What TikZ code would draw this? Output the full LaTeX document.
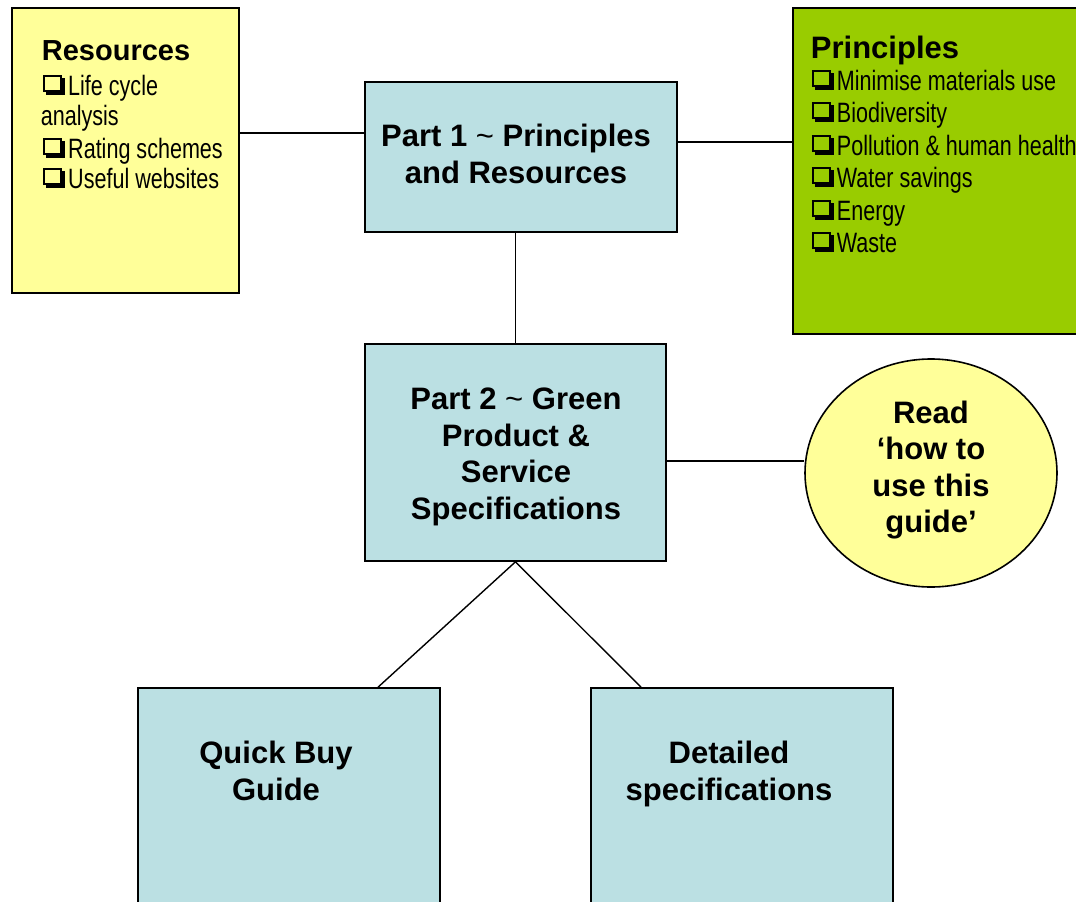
\documentclass[tikz,border=0pt]{standalone}
\usepackage{fontspec}
\setmainfont{Liberation Sans}
\newfontfamily\narrowfont[FakeStretch=0.77]{Liberation Sans}
\usetikzlibrary{shapes.geometric}
\definecolor{resyellow}{HTML}{FFFF99}
\definecolor{prgreen}{HTML}{99CC00}
\definecolor{partblue}{HTML}{BBE0E3}
\newcommand{\cbxbox}{\setlength{\unitlength}{1pt}\begin{picture}(22,20)
 \put(0,3){\rule{19pt}{2pt}}
 \put(0,18){\rule{19pt}{2pt}}
 \put(0,3){\rule{2pt}{17pt}}
 \put(17,3){\rule{2pt}{17pt}}
 \put(3,0){\rule{19pt}{3pt}}
 \put(19,0){\rule{3pt}{17pt}}
\end{picture}}
\newcommand{\cbx}{\makebox[25pt][l]{\raisebox{0pt}{\cbxbox}}}
\newcommand{\midtilde}{{\mdseries\textasciitilde}}
\begin{document}
\begin{tikzpicture}[x=1pt,y=-1pt,
  box/.style={draw=black, line width=1.6pt, rectangle, inner sep=0pt},
  conn/.style={draw=black, line width=1.4pt},
  bigtext/.style={font=\fontsize{31}{36.5}\selectfont\bfseries, align=center, inner sep=0pt},
  itemtext/.style={font=\narrowfont\fontsize{28}{32}\selectfont, anchor=base west, inner sep=0pt},
  titletext/.style={font=\fontsize{29}{32}\selectfont\bfseries, anchor=base west, inner sep=0pt}]
\useasboundingbox (0,0) rectangle (1076,902);
\clip (0,0) rectangle (1076,902);
\fill[white] (0,0) rectangle (1076,902);

% boxes
\node[box, fill=resyellow, minimum width=227pt, minimum height=285pt] (res) at (125.5,150.5) {};
\node[box, fill=prgreen, minimum width=297pt, minimum height=326pt] (pri) at (941.5,171) {};
\node[box, fill=partblue, minimum width=312pt, minimum height=150pt] (p1) at (521,157) {};
\node[box, fill=partblue, minimum width=301pt, minimum height=217pt] (p2) at (515.5,452.5) {};
\node[ellipse, draw=black, line width=1.6pt, fill=resyellow, minimum width=252pt, minimum height=228pt, inner sep=0pt] (ell) at (931,473) {};
\node[box, fill=partblue, minimum width=302pt, minimum height=242pt] (qb) at (289,809) {};
\node[box, fill=partblue, minimum width=302pt, minimum height=242pt] (dt) at (742,809) {};

% helper coordinates
\coordinate (ya) at (0,133);
\coordinate (yb) at (0,142);
\coordinate (yc) at (0,461);
\coordinate (xq) at (378,0);
\coordinate (xd) at (641,0);

% connectors
\draw[conn] (res.east |- ya) -- (p1.west |- ya);
\draw[conn] (p1.east |- yb) -- (pri.west |- yb);
\draw[conn] (p1.south -| p2.north) -- (p2.north);
\draw[conn] (p2.east |- yc) -- (ell.west |- yc);
\draw[conn] (p2.south) -- (qb.north -| xq);
\draw[conn] (p2.south) -- (dt.north -| xd);

% texts
\node[bigtext] (t1) at (516,154) {Part 1 \midtilde{} Principles\\and Resources};
\node[bigtext] (t2) at (516,457) {Part 2 \midtilde{} Green\\Product \&\\Service\\Specifications};
\node[bigtext] (t3) at (931,470) {Read\\‘how to\\use this\\guide’};
\node[bigtext] (t4) at (276,771) {Quick Buy\\Guide};
\node[bigtext] (t5) at (729,774) {Detailed\\specifications};

% Resources list
\node[titletext] (r0) at (41.7,60) {Resources};
\node[itemtext] (r1) at (43,95) {\cbx Life cycle};
\node[itemtext] (r2) at (40.7,125) {analysis};
\node[itemtext] (r3) at (43,158) {\cbx Rating schemes};
\node[itemtext] (r4) at (43,188) {\cbx Useful websites};

% Principles list
\node[titletext, font=\fontsize{31}{32}\selectfont\bfseries] (q0) at (810.7,58) {Principles};
\node[itemtext] (q1) at (811.7,90) {\cbx Minimise materials use};
\node[itemtext] (q2) at (811.7,122) {\cbx Biodiversity};
\node[itemtext] (q3) at (811.7,155) {\cbx Pollution \& human health};
\node[itemtext] (q4) at (811.7,187) {\cbx Water savings};
\node[itemtext] (q5) at (811.7,220) {\cbx Energy};
\node[itemtext] (q6) at (811.7,252) {\cbx Waste};
\end{tikzpicture}
\end{document}
